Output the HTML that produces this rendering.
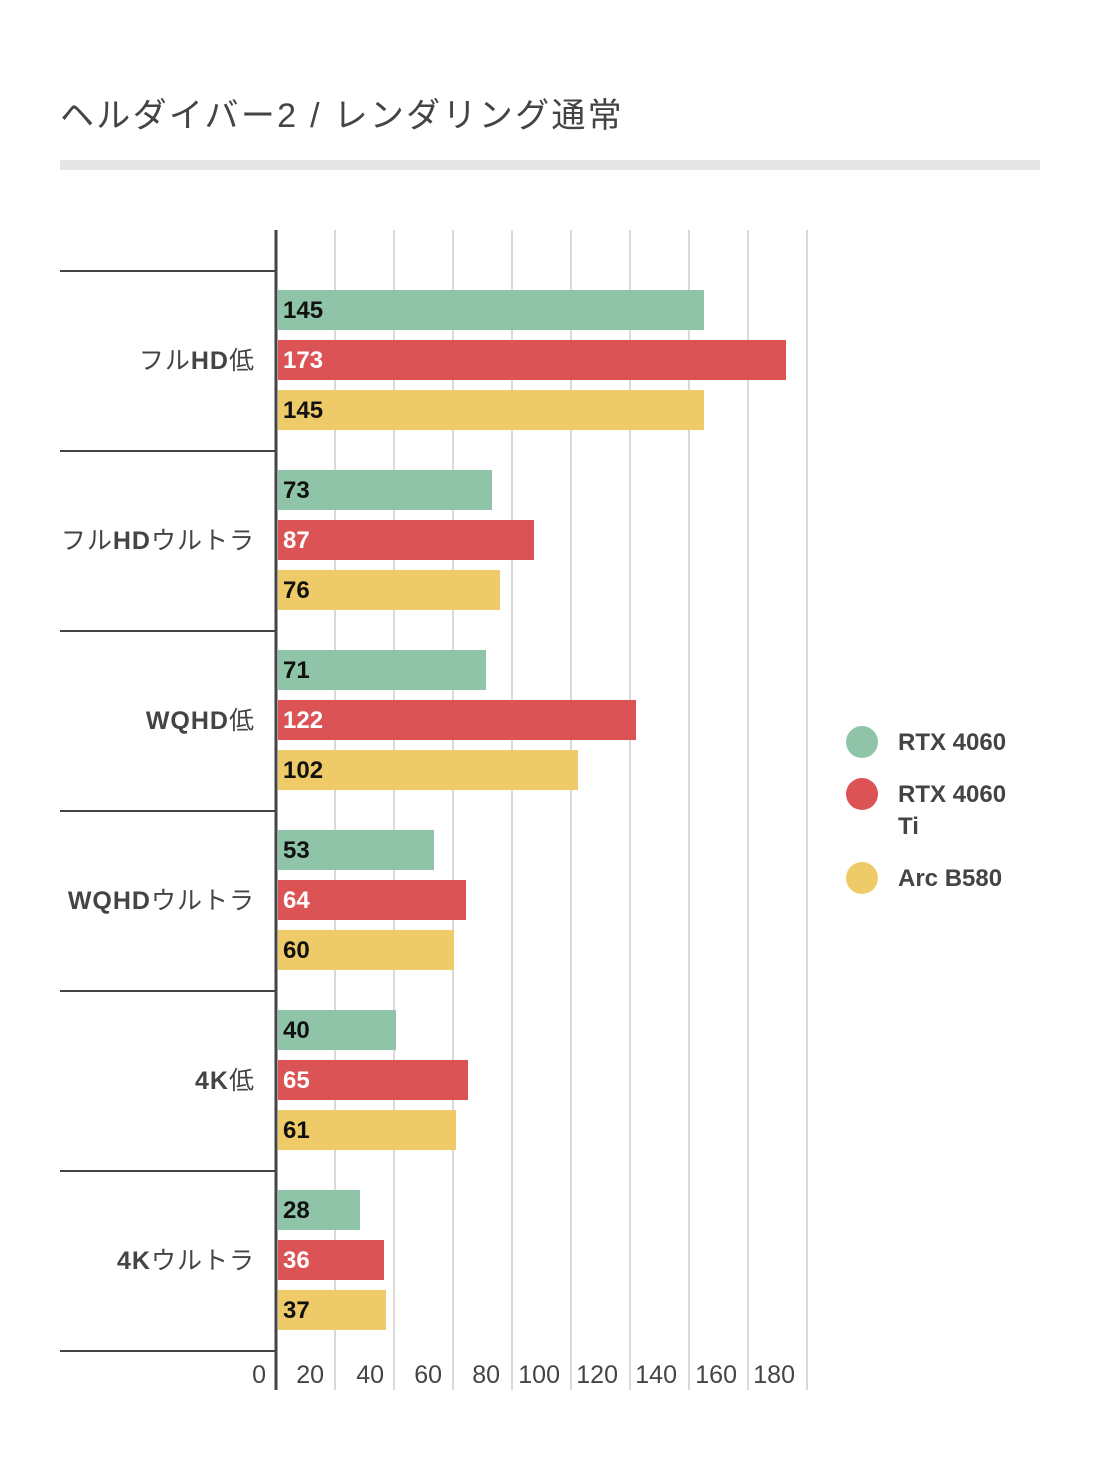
<!DOCTYPE html>
<html><head><meta charset="utf-8"><style>
html,body{margin:0;padding:0;background:#fff}
svg{display:block}
text{font-family:"Liberation Sans","Noto Sans CJK JP",sans-serif}
.cat{font-size:25px;fill:#444;text-anchor:end;letter-spacing:1px}
.v{font-size:24px;font-weight:bold;fill:#111}
.vw{font-size:24px;font-weight:bold;fill:#fff}
.t{font-size:25px;fill:#444;text-anchor:end}
.lg{font-size:24px;font-weight:bold;fill:#444}
</style></head><body>
<svg width="1100" height="1458" viewBox="0 0 1100 1458">
<text x="60" y="127" style="font-size:34px;fill:#444;letter-spacing:2.3px">ヘルダイバー2 / レンダリング通常</text>
<rect x="60" y="160" width="980" height="10" fill="#e6e6e6"/>
<g stroke="#d9d9d9" stroke-width="2">
<line x1="335" y1="230" x2="335" y2="1390"/><line x1="394" y1="230" x2="394" y2="1390"/><line x1="453" y1="230" x2="453" y2="1390"/><line x1="512" y1="230" x2="512" y2="1390"/><line x1="571" y1="230" x2="571" y2="1390"/><line x1="630" y1="230" x2="630" y2="1390"/><line x1="689" y1="230" x2="689" y2="1390"/><line x1="748" y1="230" x2="748" y2="1390"/><line x1="807" y1="230" x2="807" y2="1390"/>
</g>
<g stroke="#444" stroke-width="2">
<line x1="60" y1="271" x2="276" y2="271"/><line x1="60" y1="451" x2="276" y2="451"/><line x1="60" y1="631" x2="276" y2="631"/><line x1="60" y1="811" x2="276" y2="811"/><line x1="60" y1="991" x2="276" y2="991"/><line x1="60" y1="1171" x2="276" y2="1171"/><line x1="60" y1="1351" x2="276" y2="1351"/>
</g>
<g>
<rect x="278" y="290" width="426" height="40" fill="#8fc4a8"/><rect x="278" y="340" width="508" height="40" fill="#dc5356"/><rect x="278" y="390" width="426" height="40" fill="#eecb68"/>
<rect x="278" y="470" width="214" height="40" fill="#8fc4a8"/><rect x="278" y="520" width="256" height="40" fill="#dc5356"/><rect x="278" y="570" width="222" height="40" fill="#eecb68"/>
<rect x="278" y="650" width="208" height="40" fill="#8fc4a8"/><rect x="278" y="700" width="358" height="40" fill="#dc5356"/><rect x="278" y="750" width="300" height="40" fill="#eecb68"/>
<rect x="278" y="830" width="156" height="40" fill="#8fc4a8"/><rect x="278" y="880" width="188" height="40" fill="#dc5356"/><rect x="278" y="930" width="176" height="40" fill="#eecb68"/>
<rect x="278" y="1010" width="118" height="40" fill="#8fc4a8"/><rect x="278" y="1060" width="190" height="40" fill="#dc5356"/><rect x="278" y="1110" width="178" height="40" fill="#eecb68"/>
<rect x="278" y="1190" width="82" height="40" fill="#8fc4a8"/><rect x="278" y="1240" width="106" height="40" fill="#dc5356"/><rect x="278" y="1290" width="108" height="40" fill="#eecb68"/>
</g>
<line x1="276" y1="230" x2="276" y2="1390" stroke="#444" stroke-width="3"/>
<g>
<text class="v" x="283" y="318">145</text><text class="vw" x="283" y="368">173</text><text class="v" x="283" y="418">145</text>
<text class="v" x="283" y="498">73</text><text class="vw" x="283" y="548">87</text><text class="v" x="283" y="598">76</text>
<text class="v" x="283" y="678">71</text><text class="vw" x="283" y="728">122</text><text class="v" x="283" y="778">102</text>
<text class="v" x="283" y="858">53</text><text class="vw" x="283" y="908">64</text><text class="v" x="283" y="958">60</text>
<text class="v" x="283" y="1038">40</text><text class="vw" x="283" y="1088">65</text><text class="v" x="283" y="1138">61</text>
<text class="v" x="283" y="1218">28</text><text class="vw" x="283" y="1268">36</text><text class="v" x="283" y="1318">37</text>
</g>
<g>
<text class="cat" x="255" y="369">フル<tspan font-weight="bold">HD</tspan>低</text>
<text class="cat" x="255" y="549">フル<tspan font-weight="bold">HD</tspan>ウルトラ</text>
<text class="cat" x="255" y="729"><tspan font-weight="bold">WQHD</tspan>低</text>
<text class="cat" x="255" y="909"><tspan font-weight="bold">WQHD</tspan>ウルトラ</text>
<text class="cat" x="255" y="1089"><tspan font-weight="bold">4K</tspan>低</text>
<text class="cat" x="255" y="1269"><tspan font-weight="bold">4K</tspan>ウルトラ</text>
</g>
<g>
<text class="t" x="266" y="1383">0</text><text class="t" x="324" y="1383">20</text><text class="t" x="384" y="1383">40</text><text class="t" x="442" y="1383">60</text><text class="t" x="500" y="1383">80</text><text class="t" x="560" y="1383">100</text><text class="t" x="618" y="1383">120</text><text class="t" x="677" y="1383">140</text><text class="t" x="737" y="1383">160</text><text class="t" x="795" y="1383">180</text>
</g>
<circle cx="862" cy="742" r="16" fill="#8fc4a8"/><text class="lg" x="898" y="750">RTX 4060</text>
<circle cx="862" cy="794" r="16" fill="#dc5356"/><text class="lg" x="898" y="802">RTX 4060</text><text class="lg" x="898" y="834">Ti</text>
<circle cx="862" cy="878" r="16" fill="#eecb68"/><text class="lg" x="898" y="886">Arc B580</text>
</svg>
</body></html>
